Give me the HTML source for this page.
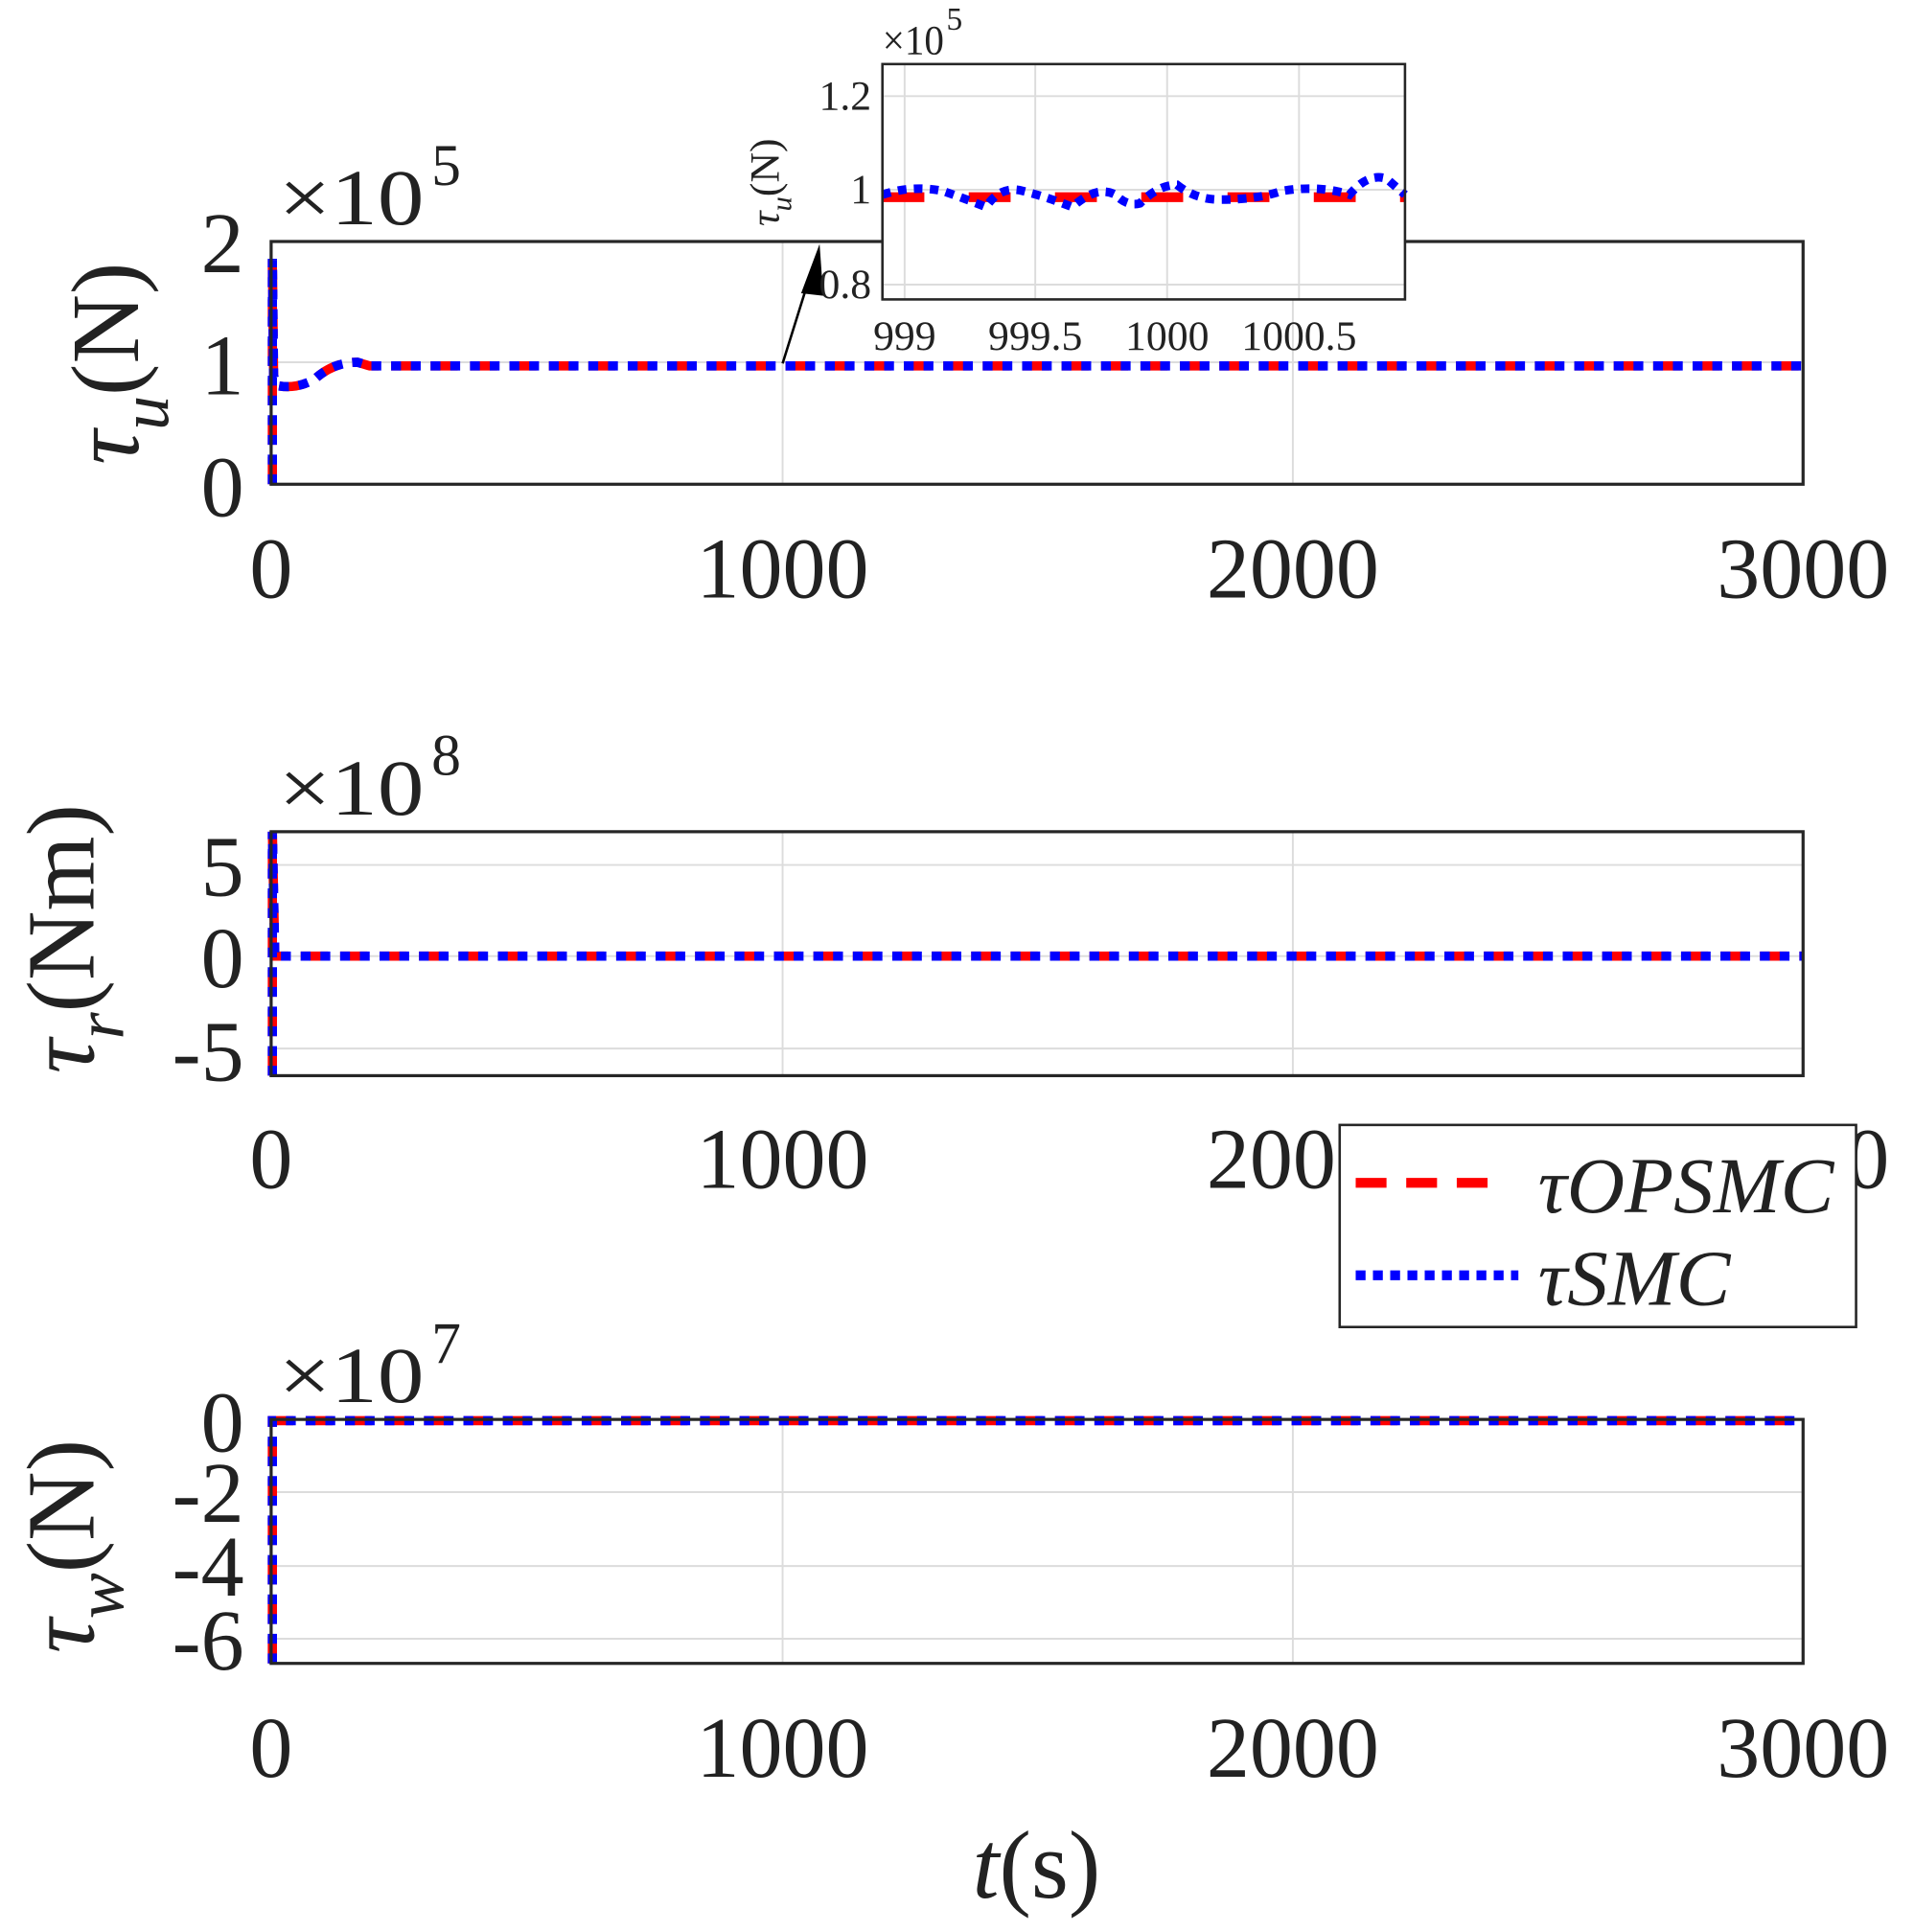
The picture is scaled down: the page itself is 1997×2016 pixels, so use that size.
<!DOCTYPE html>
<html><head><meta charset="utf-8"><style>html,body{margin:0;padding:0;background:#fff}svg{display:block}</style></head>
<body>
<svg width="1997" height="2016" viewBox="0 0 1553 1568" preserveAspectRatio="none" xmlns="http://www.w3.org/2000/svg" font-family="Liberation Serif, serif" fill="#222">
<defs>
<style>
.grid{stroke:#dcdcdc;stroke-width:1.5;fill:none}
.ax{stroke:#262626;stroke-width:2.5;fill:none}
.red{stroke:#ff0000;stroke-width:7.5;fill:none;stroke-dasharray:22 10}
.blue{stroke:#0000ff;stroke-width:7.5;fill:none;stroke-dasharray:8 8}
.tk{font-size:70px;text-anchor:middle}
.ty{font-size:70px;text-anchor:end}
</style>
</defs>
<!-- TOP -->
<line class="grid" x1="220" y1="294" x2="1463" y2="294"/>
<line class="grid" x1="635" y1="196" x2="635" y2="393"/>
<line class="grid" x1="1049" y1="196" x2="1049" y2="393"/>
<path class="red" d="M221 393 L221 210 L222 305 L225 313 Q240 316 255 308 Q270 294 290 294 L300 297 L1463 297"/>
<path class="blue" d="M221 393 L221 210 L222 305 L225 313 Q240 316 255 308 Q270 294 290 294 L300 297 L1463 297"/>
<rect class="ax" x="220" y="196" width="1243" height="197"/>
<text class="ty" x="198" y="221">2</text>
<text class="ty" x="198" y="320">1</text>
<text class="ty" x="198" y="419">0</text>
<text x="226" y="182" font-size="64" textLength="118" lengthAdjust="spacingAndGlyphs">×10</text><text x="350" y="150" font-size="48">5</text>
<text class="tk" x="220" y="485">0</text><text class="tk" x="635" y="485" textLength="140" lengthAdjust="spacingAndGlyphs">1000</text><text class="tk" x="1049" y="485" textLength="140" lengthAdjust="spacingAndGlyphs">2000</text><text class="tk" x="1463" y="485" textLength="140" lengthAdjust="spacingAndGlyphs">3000</text>
<text transform="translate(112,295) rotate(-90)" font-size="78" text-anchor="middle"><tspan font-style="italic">τ</tspan><tspan font-style="italic" font-size="56" dy="24">u</tspan><tspan dy="-24">(N)</tspan></text>
<!-- arrow -->
<line x1="635" y1="295" x2="660" y2="215" stroke="#000" stroke-width="2"/>
<polygon points="665,198 650,238 668,240" fill="#000"/>
<!-- INSET -->
<rect x="716" y="52" width="424" height="191" fill="#fff"/>
<line class="grid" x1="716" y1="78" x2="1140" y2="78"/>
<line class="grid" x1="716" y1="154" x2="1140" y2="154"/>
<line class="grid" x1="716" y1="231" x2="1140" y2="231"/>
<line class="grid" x1="734" y1="52" x2="734" y2="243"/>
<line class="grid" x1="840" y1="52" x2="840" y2="243"/>
<line class="grid" x1="947" y1="52" x2="947" y2="243"/>
<line class="grid" x1="1054" y1="52" x2="1054" y2="243"/>
<path class="red" d="M716 160 L1140 160" style="stroke-dasharray:34 36;stroke-width:8"/>
<path class="blue" d="M716 158 Q740 150 765 155 Q785 162 800 168 Q812 150 830 155 Q850 160 870 168 Q890 150 905 158 Q915 168 925 165 Q940 150 955 150 Q970 162 990 162 Q1020 162 1040 155 Q1070 150 1095 158 Q1110 140 1125 145 L1140 158" style="stroke-dasharray:7 6;stroke-width:7"/>
<rect class="ax" x="716" y="52" width="424" height="191" style="stroke-width:2"/>
<text x="707" y="89" font-size="34" text-anchor="end">1.2</text>
<text x="707" y="165" font-size="34" text-anchor="end">1</text>
<text x="707" y="242" font-size="34" text-anchor="end">0.8</text>
<text x="716" y="44" font-size="34" textLength="50" lengthAdjust="spacingAndGlyphs">×10</text><text x="768" y="24" font-size="26">5</text>
<text x="734" y="284" font-size="34" text-anchor="middle">999</text>
<text x="840" y="284" font-size="34" text-anchor="middle">999.5</text>
<text x="947" y="284" font-size="34" text-anchor="middle">1000</text>
<text x="1054" y="284" font-size="34" text-anchor="middle">1000.5</text>
<text transform="translate(632,148) rotate(-90)" font-size="34" text-anchor="middle"><tspan font-style="italic">τ</tspan><tspan font-style="italic" font-size="24" dy="10">u</tspan><tspan dy="-10">(N)</tspan></text>
<!-- MIDDLE -->
<line class="grid" x1="220" y1="702" x2="1463" y2="702"/>
<line class="grid" x1="220" y1="776" x2="1463" y2="776"/>
<line class="grid" x1="220" y1="851" x2="1463" y2="851"/>
<line class="grid" x1="635" y1="675" x2="635" y2="873"/>
<line class="grid" x1="1049" y1="675" x2="1049" y2="873"/>
<path class="red" d="M221 873 L221 675 L223 776 L1463 776"/>
<path class="blue" d="M221 873 L221 675 L223 776 L1463 776"/>
<rect class="ax" x="220" y="675" width="1243" height="198"/>
<text class="ty" x="198" y="727">5</text>
<text class="ty" x="198" y="801">0</text>
<text class="ty" x="198" y="877">-5</text>
<text x="226" y="661" font-size="64" textLength="118" lengthAdjust="spacingAndGlyphs">×10</text><text x="350" y="629" font-size="48">8</text>
<text class="tk" x="220" y="964">0</text><text class="tk" x="635" y="964" textLength="140" lengthAdjust="spacingAndGlyphs">1000</text><text class="tk" x="1049" y="964" textLength="140" lengthAdjust="spacingAndGlyphs">2000</text><text class="tk" x="1463" y="964" textLength="140" lengthAdjust="spacingAndGlyphs">3000</text>
<text transform="translate(76,762) rotate(-90)" font-size="78" text-anchor="middle"><tspan font-style="italic">τ</tspan><tspan font-style="italic" font-size="56" dy="24">r</tspan><tspan dy="-24">(Nm)</tspan></text>
<!-- LEGEND -->
<rect x="1087" y="913" width="419" height="164" fill="#fff" stroke="#262626" stroke-width="2"/>
<line x1="1100" y1="960" x2="1210" y2="960" stroke="#ff0000" stroke-width="8" style="stroke-dasharray:25 16"/>
<line x1="1100" y1="1035" x2="1232" y2="1035" stroke="#0000ff" stroke-width="8" style="stroke-dasharray:8 6"/>
<text x="1248" y="984" font-size="64" font-style="italic" textLength="240" lengthAdjust="spacingAndGlyphs">τOPSMC</text>
<text x="1248" y="1059" font-size="64" font-style="italic" textLength="156" lengthAdjust="spacingAndGlyphs">τSMC</text>
<!-- BOTTOM -->
<line class="grid" x1="220" y1="1211" x2="1463" y2="1211"/>
<line class="grid" x1="220" y1="1271" x2="1463" y2="1271"/>
<line class="grid" x1="220" y1="1330" x2="1463" y2="1330"/>
<line class="grid" x1="635" y1="1152" x2="635" y2="1350"/>
<line class="grid" x1="1049" y1="1152" x2="1049" y2="1350"/>
<path class="red" d="M221 1350 L221 1153 L1463 1153"/>
<path class="blue" d="M221 1350 L221 1153 L1463 1153"/>
<rect class="ax" x="220" y="1152" width="1243" height="198"/>
<text class="ty" x="198" y="1178">0</text>
<text class="ty" x="198" y="1235">-2</text>
<text class="ty" x="198" y="1295">-4</text>
<text class="ty" x="198" y="1355">-6</text>
<text x="226" y="1138" font-size="64" textLength="118" lengthAdjust="spacingAndGlyphs">×10</text><text x="350" y="1106" font-size="48">7</text>
<text class="tk" x="220" y="1442">0</text><text class="tk" x="635" y="1442" textLength="140" lengthAdjust="spacingAndGlyphs">1000</text><text class="tk" x="1049" y="1442" textLength="140" lengthAdjust="spacingAndGlyphs">2000</text><text class="tk" x="1463" y="1442" textLength="140" lengthAdjust="spacingAndGlyphs">3000</text>
<text transform="translate(76,1255) rotate(-90)" font-size="78" text-anchor="middle"><tspan font-style="italic">τ</tspan><tspan font-style="italic" font-size="56" dy="24">w</tspan><tspan dy="-24">(N)</tspan></text>
<text x="841" y="1540" font-size="78" text-anchor="middle"><tspan font-style="italic">t</tspan>(s)</text>
</svg>
</body></html>
